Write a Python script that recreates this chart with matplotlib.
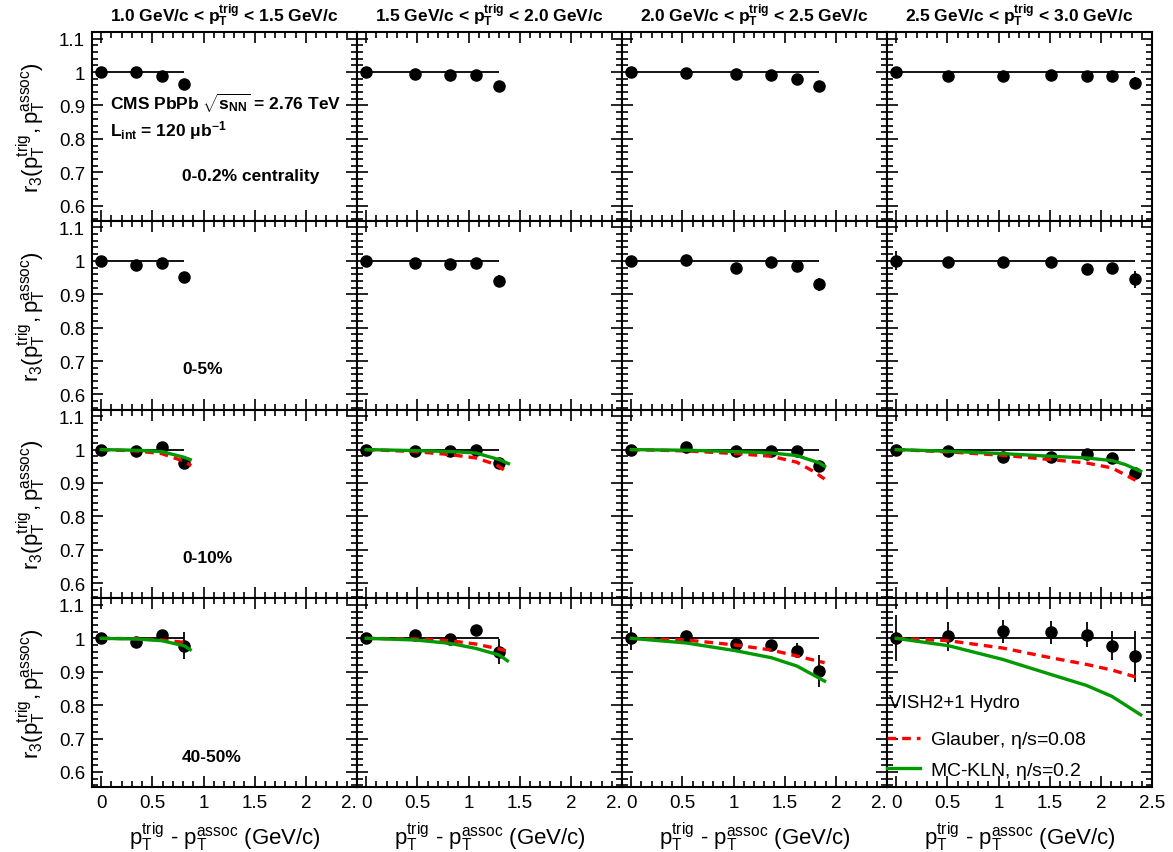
import matplotlib
matplotlib.use('Agg')
import matplotlib.pyplot as plt
from matplotlib.ticker import MultipleLocator, FuncFormatter

plt.rcParams['font.family'] = ['Liberation Sans', 'DejaVu Sans']
plt.rcParams['mathtext.fontset'] = 'custom'
plt.rcParams['mathtext.rm'] = 'Liberation Sans'
plt.rcParams['mathtext.it'] = 'Liberation Sans'
plt.rcParams['mathtext.sf'] = 'Liberation Sans'
plt.rcParams['mathtext.bf'] = 'Liberation Sans:bold'

# trigger pT bins (columns)
trig_bins = ['1.0', '1.5', '2.0', '2.5', '3.0']
centralities = ['0-0.2% centrality', '0-5%', '0-10%', '40-50%']

# pT^trig - pT^assoc for each column
dpt = [
    [0, 0.34, 0.59, 0.81],
    [0, 0.48, 0.82, 1.07, 1.30],
    [0, 0.54, 1.02, 1.37, 1.62, 1.84],
    [0, 0.51, 1.04, 1.51, 1.86, 2.11, 2.33],
]

# r3 values, one list of columns per centrality row
r3_0_02 = [
    [1.0, 1.0, 0.989, 0.964],
    [1.0, 0.995, 0.992, 0.990, 0.957],
    [1.0, 0.997, 0.995, 0.992, 0.979, 0.958],
    [1.0, 0.987, 0.987, 0.990, 0.987, 0.989, 0.968],
]
err_0_02 = [
    [0.004, 0.004, 0.005, 0.010],
    [0.003, 0.004, 0.004, 0.005, 0.012],
    [0.003, 0.004, 0.004, 0.005, 0.006, 0.015],
    [0.015, 0.005, 0.005, 0.006, 0.006, 0.008, 0.018],
]
r3_0_5 = [
    [1.0, 0.988, 0.995, 0.951],
    [1.0, 0.993, 0.990, 0.993, 0.940],
    [1.0, 1.002, 0.980, 0.997, 0.986, 0.930],
    [1.0, 0.997, 0.996, 0.996, 0.977, 0.980, 0.945],
]
err_0_5 = [
    [0.004, 0.005, 0.005, 0.015],
    [0.003, 0.004, 0.004, 0.005, 0.018],
    [0.004, 0.004, 0.005, 0.006, 0.008, 0.020],
    [0.028, 0.012, 0.006, 0.006, 0.010, 0.012, 0.025],
]
r3_0_10 = [
    [1.0, 0.995, 1.008, 0.960],
    [1.0, 0.995, 0.995, 0.998, 0.960],
    [1.0, 1.008, 0.997, 0.995, 0.995, 0.952],
    [1.0, 0.996, 0.979, 0.979, 0.987, 0.976, 0.930],
]
err_0_10 = [
    [0.003, 0.004, 0.005, 0.008],
    [0.003, 0.004, 0.004, 0.005, 0.010],
    [0.004, 0.005, 0.005, 0.006, 0.007, 0.010],
    [0.010, 0.005, 0.006, 0.006, 0.007, 0.008, 0.012],
]
r3_40_50 = [
    [1.0, 0.988, 1.010, 0.978],
    [1.0, 1.011, 0.998, 1.024, 0.960],
    [1.0, 1.006, 0.983, 0.980, 0.963, 0.902],
    [1.0, 1.006, 1.021, 1.018, 1.011, 0.978, 0.946],
]
err_40_50 = [
    [0.004, 0.005, 0.006, 0.040],
    [0.004, 0.006, 0.007, 0.009, 0.038],
    [0.034, 0.012, 0.012, 0.015, 0.022, 0.049],
    [0.069, 0.043, 0.034, 0.034, 0.038, 0.043, 0.077],
]

# VISH2+1 hydro curves (only for 0-10% and 40-50%)
glauber_x_0_10 = [[0, 0.34, 0.59, 0.81, 0.88], [0, 0.48, 0.82, 1.07, 1.27, 1.38],
                  [0, 0.54, 1.02, 1.37, 1.62, 1.78, 1.89], [0, 0.51, 1.04, 1.51, 1.86, 2.11, 2.39]]
glauber_y_0_10 = [[1.0, 0.996, 0.988, 0.965, 0.952], [1.0, 0.994, 0.985, 0.975, 0.955, 0.932],
                  [1.0, 0.996, 0.988, 0.980, 0.962, 0.935, 0.912], [1.0, 0.993, 0.983, 0.970, 0.960, 0.945, 0.900]]
kln_x_0_10 = [[0, 0.34, 0.59, 0.81, 0.87], [0, 0.48, 0.82, 1.07, 1.30, 1.39],
              [0, 0.54, 1.02, 1.37, 1.62, 1.84, 1.89], [0, 0.51, 1.04, 1.51, 1.86, 2.11, 2.24, 2.39]]
kln_y_0_10 = [[1.0, 0.998, 0.994, 0.977, 0.970], [1.0, 0.997, 0.994, 0.990, 0.970, 0.958],
              [1.0, 0.998, 0.994, 0.990, 0.982, 0.960, 0.950], [1.0, 0.995, 0.988, 0.980, 0.975, 0.967, 0.955, 0.935]]
glauber_x_40_50 = [[0, 0.34, 0.59, 0.81, 0.85], [0, 0.48, 0.82, 1.07, 1.30, 1.38],
                   [0, 0.54, 1.02, 1.37, 1.62, 1.89], [0, 0.51, 1.04, 1.51, 1.86, 2.11, 2.39]]
glauber_y_40_50 = [[1.0, 0.999, 0.995, 0.988, 0.985], [1.0, 0.998, 0.993, 0.983, 0.968, 0.962],
                   [1.0, 0.995, 0.980, 0.965, 0.947, 0.927], [1.0, 0.993, 0.971, 0.942, 0.922, 0.905, 0.880]]
kln_x_40_50 = [[0, 0.34, 0.59, 0.81, 0.87], [0, 0.48, 0.82, 1.07, 1.30, 1.38],
               [0, 0.54, 1.02, 1.37, 1.62, 1.89], [0, 0.51, 1.04, 1.51, 1.86, 2.11, 2.39]]
kln_y_40_50 = [[1.0, 0.998, 0.993, 0.978, 0.966], [1.0, 0.995, 0.985, 0.970, 0.950, 0.933],
               [1.0, 0.986, 0.963, 0.942, 0.917, 0.872], [1.0, 0.978, 0.937, 0.892, 0.859, 0.826, 0.771]]

r3_rows = [r3_0_02, r3_0_5, r3_0_10, r3_40_50]
err_rows = [err_0_02, err_0_5, err_0_10, err_40_50]
theory = {2: (glauber_x_0_10, glauber_y_0_10, kln_x_0_10, kln_y_0_10),
          3: (glauber_x_40_50, glauber_y_40_50, kln_x_40_50, kln_y_40_50)}

W, H = 1173, 853
fig, axes = plt.subplots(4, 4, figsize=(W / 100, H / 100), dpi=100)
fig.subplots_adjust(left=92 / W, right=1152 / W, bottom=1 - 788 / H, top=1 - 33 / H,
                    wspace=0, hspace=0)

fmt = FuncFormatter(lambda v, p: '%g' % v)

for r in range(4):
    for c in range(4):
        ax = axes[r][c]
        x = dpt[c]
        ax.hlines(1.0, x[0], x[-1], color='black', lw=1.3, zorder=2)
        ax.errorbar(x, r3_rows[r][c], yerr=err_rows[r][c], fmt='o', color='black',
                    ms=8, elinewidth=1.3, capsize=0, zorder=3)
        if r in theory:
            gx, gy, kx, ky = theory[r]
            ax.plot(gx[c], gy[c], color='#ff0000', lw=2.4, ls=(0, (2.6, 1.8)), zorder=4,
                    label=r'Glauber, $\mathrm{\eta}$/s=0.08')
            ax.plot(kx[c], ky[c], color='#009900', lw=2.4, zorder=5,
                    label=r'MC-KLN, $\mathrm{\eta}$/s=0.2')

        ax.set_xlim(-0.09, 2.5)
        ax.set_ylim(0.555, 1.12)
        ax.xaxis.set_major_locator(MultipleLocator(0.5))
        ax.xaxis.set_minor_locator(MultipleLocator(0.1))
        ax.yaxis.set_major_locator(MultipleLocator(0.1))
        ax.yaxis.set_minor_locator(MultipleLocator(0.02))
        ax.yaxis.set_major_formatter(fmt)
        ax.tick_params(which='both', direction='in', top=True, right=True,
                       labelsize=13.5, width=1.2, labelleft=(c == 0), labelbottom=(r == 3))
        ax.tick_params(which='major', length=8, pad=5)
        ax.tick_params(which='minor', length=4)
        for s in ax.spines.values():
            s.set_linewidth(1.5)

        if r == 3:
            ax.set_xticks([0, 0.5, 1, 1.5, 2, 2.5])
            if c < 3:
                ax.set_xticklabels(['0', '0.5', '1', '1.5', '2', '2.'])
                ax.get_xticklabels()[-1].set_ha('right')
            else:
                ax.set_xticklabels(['0', '0.5', '1', '1.5', '2', '2.5'])
            ax.set_xlabel(r'$\mathrm{p_T^{trig}}$ - $\mathrm{p_T^{assoc}}$ (GeV/c)',
                          fontsize=16, labelpad=6)
        if c == 0:
            ax.set_ylabel(r'$\mathrm{r_3(p_T^{trig},p_T^{assoc})}$', fontsize=16, labelpad=8)
            ax.text(0.34, [0.239, 0.218, 0.216, 0.164][r], centralities[r],
                    transform=ax.transAxes, fontsize=12.5, fontweight='bold', va='center')
        if r == 0:
            ax.set_title(trig_bins[c] + r' GeV/c < $\mathbf{p_T^{trig}}$ < ' + trig_bins[c + 1] + ' GeV/c',
                         fontsize=12.5, fontweight='bold', pad=8)

ax = axes[0][0]
ax.text(0.068, 0.628, r'CMS PbPb $\mathbf{\sqrt{s_{NN}}}$ = 2.76 TeV', transform=ax.transAxes,
        fontsize=12.5, fontweight='bold', va='center')
ax.text(0.068, 0.484, r'L$_{\mathbf{int}}$ = 120 μb$^{\mathbf{-1}}$', transform=ax.transAxes,
        fontsize=12.5, fontweight='bold', va='center')

ax = axes[3][3]
ax.text(0.008, 0.45, 'VISH2+1 Hydro', transform=ax.transAxes, fontsize=13.5, va='center')
leg = ax.legend(loc='upper left', bbox_to_anchor=(0.0, 0.305), frameon=False, fontsize=14,
                handlelength=1.7, handletextpad=0.5, labelspacing=0.5,
                borderpad=0, borderaxespad=0)

fig.savefig('out.png', dpi=100)
